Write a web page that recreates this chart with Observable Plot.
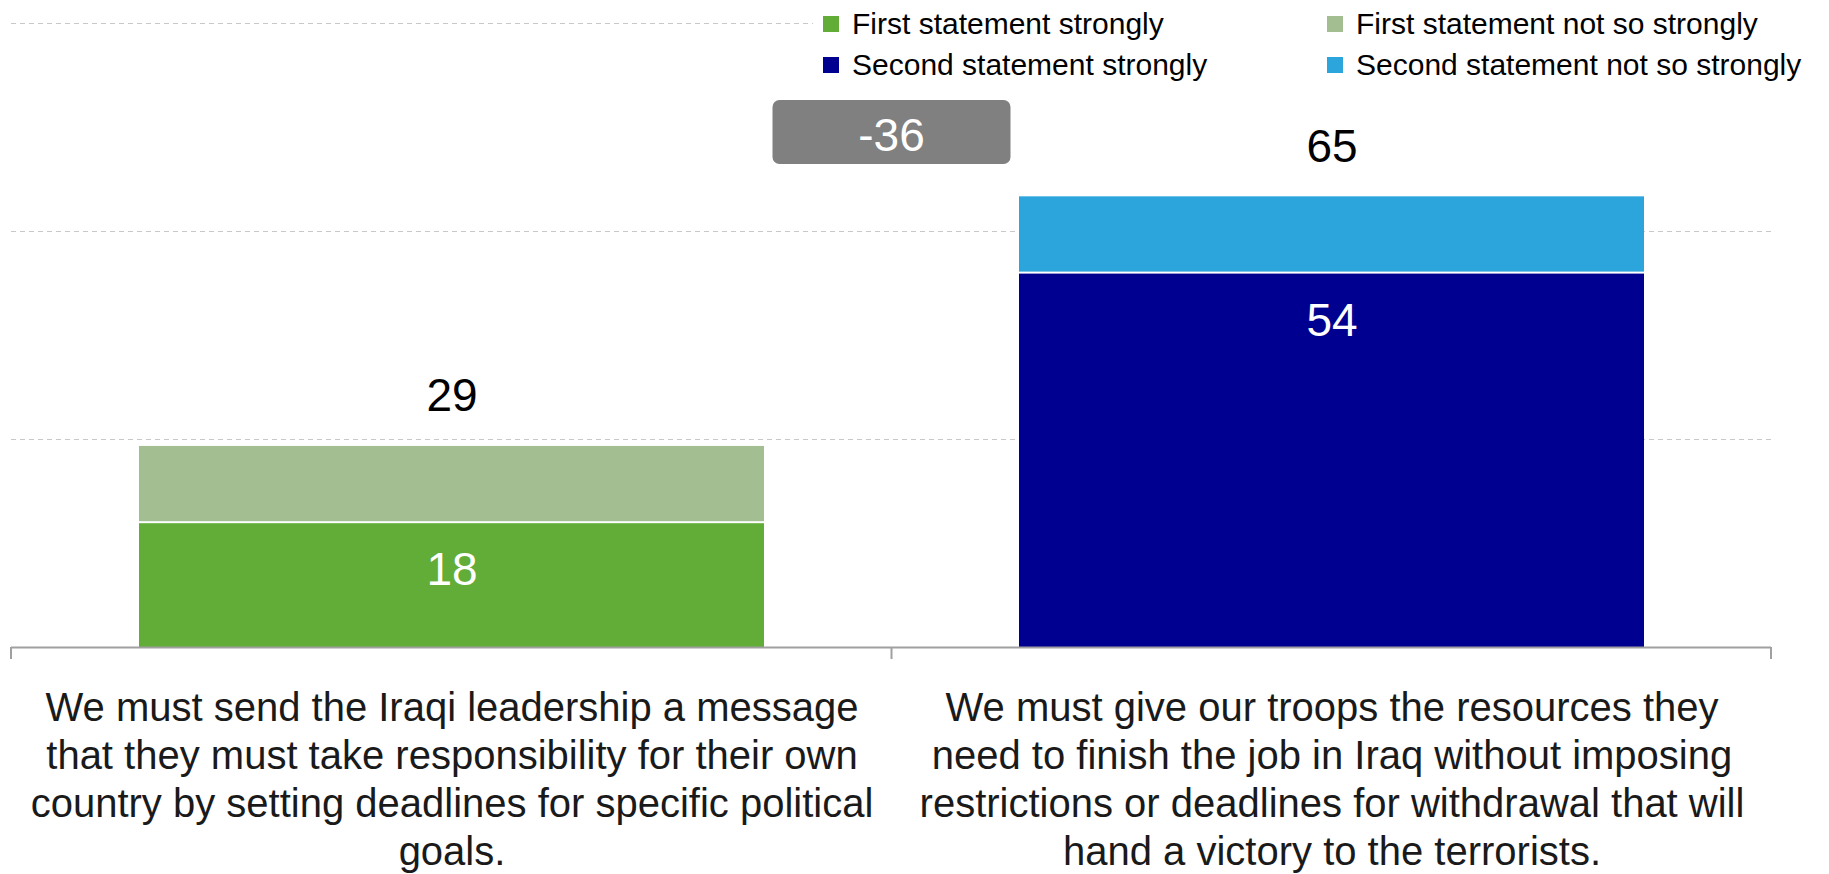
<!DOCTYPE html>
<html>
<head>
<meta charset="utf-8">
<script src="https://cdn.jsdelivr.net/npm/d3@7"></script>
<script src="https://cdn.jsdelivr.net/npm/@observablehq/plot@0.6"></script>
<style>
  html, body { margin: 0; padding: 0; background: #fff; overflow: hidden; }
  #wrap { position: relative; width: 1829px; height: 874px; font-family: "Liberation Sans", Arial, sans-serif; }
  #legend { position: absolute; left: 813px; top: 0; width: 1016px; height: 86px; background: #fff;
            display: grid; grid-template-columns: 504px auto; grid-auto-rows: 41px; padding: 3px 0 0 10px; box-sizing: border-box; }
  .item { display: flex; align-items: center; font-size: 30px; color: #000; white-space: nowrap; }
  .sw { width: 16px; height: 16px; margin-right: 13px; flex: none; }
</style>
</head>
<body>
<div id="wrap"><div id="chart"></div><div id="legend"></div></div>
<script>
// ---- data ----
const categories = [
  "We must send the Iraqi leadership a message that they must take responsibility for their own country by setting deadlines for specific political goals.",
  "We must give our troops the resources they need to finish the job in Iraq without imposing restrictions or deadlines for withdrawal that will hand a victory to the terrorists."
];
const categoryLabels = [
  "We must send the Iraqi leadership a message\nthat they must take responsibility for their own\ncountry by setting deadlines for specific political\ngoals.",
  "We must give our troops the resources they\nneed to finish the job in Iraq without imposing\nrestrictions or deadlines for withdrawal that will\nhand a victory to the terrorists."
];
const seriesNames = [
  "First statement strongly",
  "First statement not so strongly",
  "Second statement strongly",
  "Second statement not so strongly"
];
const seriesColors = ["#62ad37", "#a3be91", "#000090", "#2ca5dc"];
const firstStrongly = [18, 0];
const firstNotSo = [11, 0];
const secondStrongly = [0, 54];
const secondNotSo = [0, 11];
const totals = [29, 65];
const gridTicks = [30, 60, 90];
const yMax = 90;

// ---- build stacked rows ----
const seriesValues = [firstStrongly, firstNotSo, secondStrongly, secondNotSo];
const strongIdx = [0, 2];
const rows = [];
categories.forEach((cat, i) => {
  let cum = 0;
  seriesValues.forEach((vals, s) => {
    const v = vals[i];
    if (v > 0) {
      rows.push({cat, series: seriesNames[s], value: v, y1: cum, y2: cum + v, strong: strongIdx.includes(s)});
      cum += v;
    }
  });
});
const strongRows = rows.filter(d => d.strong);
const upperRows = rows.filter(d => !d.strong);
const totalRows = categories.map((cat, i) => ({cat, total: totals[i]}));
const labelOf = new Map(categories.map((c, i) => [c, categoryLabels[i]]));

const font = '"Liberation Sans", Arial, sans-serif';

const plot = Plot.plot({
  width: 1829,
  height: 874,
  marginLeft: 11,
  marginRight: 58,
  marginTop: 23,
  marginBottom: 227,
  style: {fontFamily: font, background: "white", overflow: "visible"},
  x: {domain: categories, paddingInner: 0.29, paddingOuter: 0.145, label: null},
  y: {domain: [0, yMax], axis: null},
  color: {domain: seriesNames, range: seriesColors},
  marks: [
    Plot.ruleY(gridTicks, {stroke: "#c8c8c8", strokeWidth: 1, strokeDasharray: "5,4"}),
    Plot.barY(strongRows, {x: "cat", y1: "y1", y2: "y2", fill: "series", insetTop: 1}),
    Plot.barY(upperRows, {x: "cat", y1: "y1", y2: "y2", fill: "series", insetBottom: 1}),
    Plot.ruleY([0], {stroke: "#a0a0a0", strokeWidth: 2}),
    Plot.text(totalRows, {x: "cat", y: "total", text: d => String(d.total), dy: -35, lineAnchor: "bottom", fontSize: 46, fill: "#000"}),
    Plot.text(strongRows, {x: "cat", y: "y2", text: d => String(d.value), dy: 48, lineAnchor: "middle", fontSize: 46, fill: "#fff"}),
    Plot.axisX({tickSize: 0, tickPadding: 39, fontSize: 40, lineHeight: 1.2, fill: "#1a1a1a",
                tickFormat: d => labelOf.get(d), label: null})
  ]
});
document.getElementById("chart").appendChild(plot);

// ---- separators and difference box, placed with Plot's own scales ----
const xs = plot.scale("x");
const ys = plot.scale("y");
const centers = categories.map(c => xs.apply(c) + xs.bandwidth / 2);
const boundaries = [xs.range[0], (centers[0] + centers[1]) / 2, xs.range[1]];
const y0 = ys.apply(0);
const svg = d3.select(plot);
svg.append("g").selectAll("line").data(boundaries).join("line")
  .attr("x1", d => d).attr("x2", d => d)
  .attr("y1", y0).attr("y2", y0 + 12)
  .attr("stroke", "#a0a0a0").attr("stroke-width", 2);

const diff = totals[0] - totals[1];
const boxW = 238, boxH = 64;
const boxTop = ys.apply(yMax) + 77;
const g = svg.append("g");
g.append("rect")
  .attr("x", boundaries[1] - boxW / 2).attr("y", boxTop)
  .attr("width", boxW).attr("height", boxH).attr("rx", 7)
  .attr("fill", "#808080");
g.append("text")
  .attr("x", boundaries[1]).attr("y", boxTop + 51)
  .attr("text-anchor", "middle").attr("font-size", 46).attr("fill", "#fff")
  .attr("font-family", font)
  .text(String(diff));

// ---- legend ----
const legend = d3.select("#legend");
seriesNames.forEach((name, i) => {
  const it = legend.append("div").attr("class", "item");
  it.append("div").attr("class", "sw").style("background", seriesColors[i]);
  it.append("span").text(name);
});
</script>
</body>
</html>
